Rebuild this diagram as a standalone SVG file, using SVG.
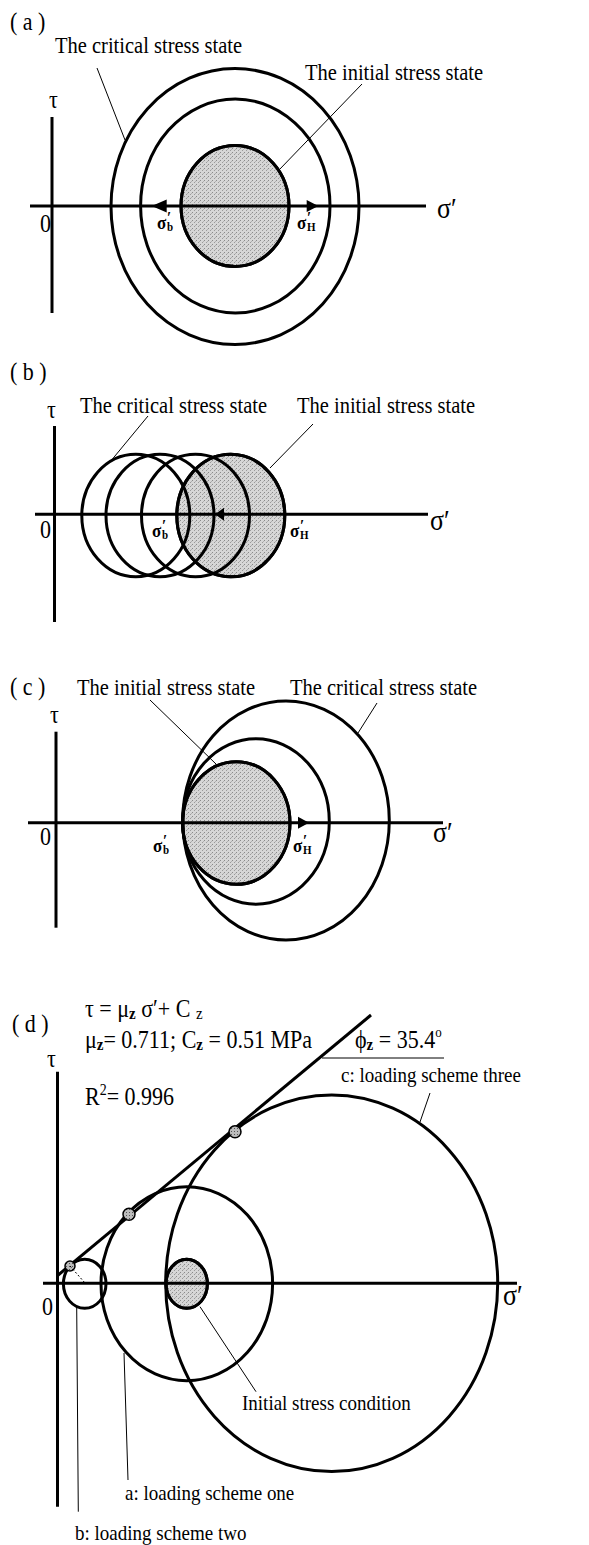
<svg xmlns="http://www.w3.org/2000/svg" width="589" height="1545" viewBox="0 0 589 1545">
<defs>
<pattern id="stip" width="4" height="4" patternUnits="userSpaceOnUse">
<rect width="4" height="4" fill="#d6d6d6"/>
<rect x="0" y="0" width="1" height="1" fill="#8a8a8a"/>
<rect x="2" y="2" width="1" height="1" fill="#9a9a9a"/>
<rect x="3" y="1" width="1" height="1" fill="#b0b0b0"/>
</pattern>
<pattern id="hatch" width="3" height="3" patternUnits="userSpaceOnUse">
<rect width="3" height="3" fill="#bbbbbb"/>
<rect x="0" y="0" width="1" height="1" fill="#555"/>
</pattern>
</defs>
<style>
.ax{stroke:#000;stroke-width:3;fill:none}
.c{stroke:#000;stroke-width:3;fill:none}
.sh{fill:url(#stip);stroke:#000;stroke-width:3}
.ld{stroke:#000;stroke-width:1;fill:none}
.ah{fill:#000;stroke:none}
.t{font-family:"Liberation Serif","Times New Roman",serif;fill:#000}
.pl{font-size:22px}
.lab{font-size:20.5px}
.lab2{font-size:19px}
.sig{font-size:26px}
.sm{font-size:17px;font-weight:bold}
.pr{font-size:15px;font-weight:bold}
.ss{font-size:11px;font-weight:bold}
.dot{fill:url(#hatch);stroke:#000;stroke-width:1.5}
</style>

<!-- Panel (a) -->
<g id="panel-a">
<text class="t pl" transform="translate(10 30) scale(1 1.13)">( a )</text>
<text class="t pl" transform="translate(49 108) scale(1 1.13)">τ</text>
<text class="t pl" transform="translate(40 232) scale(1 1.13)">0</text>
<text class="t sig" transform="translate(437 218) scale(1 1.13)">σ′</text>
<g id="a-initial"><ellipse class="sh" cx="235" cy="206" rx="54" ry="60.5"/></g>
<g id="a-axes">
<line class="ax" x1="52" y1="117" x2="52" y2="313"/>
<line class="ax" x1="30" y1="206" x2="426" y2="206"/>
</g>
<g id="a-middle"><ellipse class="c" cx="235.3" cy="206" rx="94.7" ry="107"/></g>
<g id="a-critical"><ellipse class="c" cx="235" cy="206.5" rx="124" ry="138"/></g>
<g id="a-initial-outline"><ellipse class="c" cx="235" cy="206" rx="54" ry="60.5"/></g>
<g id="a-arrows">
<polygon class="ah" points="151.7,206 166.7,199.5 166.7,212.5"/>
<polygon class="ah" points="318.3,206 306.7,200 306.7,212"/>
</g>
<text class="t sm" transform="translate(157 229) scale(1 1.13)">σ<tspan class="pr" x="10" y="-5">′</tspan><tspan class="ss" x="10" y="2">b</tspan></text>
<text class="t sm" transform="translate(297 229) scale(1 1.13)">σ<tspan class="pr" x="10" y="-5">′</tspan><tspan class="ss" x="10" y="2">H</tspan></text>
<text class="t lab" transform="translate(55 53) scale(1 1.13)">The critical stress state</text>
<text class="t lab" transform="translate(305 80) scale(1 1.13)">The initial stress state</text>
<g id="a-connectors">
<line class="ld" x1="97" y1="68" x2="125" y2="140"/>
<line class="ld" x1="362" y1="84" x2="279" y2="170"/>
</g>
</g>

<!-- Panel (b) -->
<g id="panel-b">
<text class="t pl" transform="translate(10 380) scale(1 1.13)">( b )</text>
<text class="t pl" transform="translate(47 418) scale(1 1.13)">τ</text>
<text class="t pl" transform="translate(40 538) scale(1 1.13)">0</text>
<text class="t sig" transform="translate(430 530) scale(1 1.13)">σ′</text>
<g id="b-initial"><ellipse class="sh" cx="230.8" cy="515.5" rx="54" ry="61.3"/></g>
<g id="b-axes">
<line class="ax" x1="54.5" y1="426" x2="54.5" y2="622"/>
<line class="ax" x1="35" y1="514.3" x2="428" y2="514.3"/>
</g>
<g id="b-circle1"><ellipse class="c" cx="135.8" cy="515.5" rx="54" ry="61.3"/></g>
<g id="b-circle2"><ellipse class="c" cx="160" cy="515.5" rx="54" ry="61.3"/></g>
<g id="b-circle3"><ellipse class="c" cx="195.5" cy="515.5" rx="54" ry="61.3"/></g>
<g id="b-circle4"><ellipse class="c" cx="230.8" cy="515.5" rx="54" ry="61.3"/></g>
<g id="b-arrows">
<polygon class="ah" points="215,514.3 224,507.8 224,520.8"/>
</g>
<text class="t sm" transform="translate(152 537) scale(1 1.13)">σ<tspan class="pr" x="10" y="-5">′</tspan><tspan class="ss" x="10" y="2">b</tspan></text>
<text class="t sm" transform="translate(290 537) scale(1 1.13)">σ<tspan class="pr" x="10" y="-5">′</tspan><tspan class="ss" x="10" y="2">H</tspan></text>
<text class="t lab" transform="translate(80 413) scale(1 1.13)">The critical stress state</text>
<text class="t lab" transform="translate(297 413) scale(1 1.13)">The initial stress state</text>
<g id="b-connectors">
<line class="ld" x1="148" y1="416" x2="110" y2="462"/>
<line class="ld" x1="313" y1="424" x2="270" y2="468"/>
</g>
</g>

<!-- Panel (c) -->
<g id="panel-c">
<text class="t pl" transform="translate(10 695) scale(1 1.13)">( c )</text>
<text class="t pl" transform="translate(50 723) scale(1 1.13)">τ</text>
<text class="t pl" transform="translate(40 845) scale(1 1.13)">0</text>
<text class="t sig" transform="translate(433 842) scale(1 1.13)">σ′</text>
<g id="c-initial"><ellipse class="sh" cx="236.3" cy="823" rx="53.7" ry="61.3"/></g>
<g id="c-axes">
<line class="ax" x1="56" y1="731.7" x2="56" y2="927.7"/>
<line class="ax" x1="28" y1="822.7" x2="443" y2="822.7"/>
</g>
<g id="c-middle"><ellipse class="c" cx="256" cy="821.5" rx="73.3" ry="82.8"/></g>
<g id="c-critical"><ellipse class="c" cx="286" cy="820.5" rx="103.3" ry="119.5"/></g>
<g id="c-initial-outline"><ellipse class="c" cx="236.3" cy="823" rx="53.7" ry="61.3"/></g>
<g id="c-arrows">
<polygon class="ah" points="309,822.7 298,816.7 298,828.7"/>
</g>
<text class="t sm" transform="translate(153 851.7) scale(1 1.13)">σ<tspan class="pr" x="10" y="-5">′</tspan><tspan class="ss" x="10" y="2">b</tspan></text>
<text class="t sm" transform="translate(293 851.7) scale(1 1.13)">σ<tspan class="pr" x="10" y="-5">′</tspan><tspan class="ss" x="10" y="2">H</tspan></text>
<text class="t lab" transform="translate(77 695) scale(1 1.13)">The initial stress state</text>
<text class="t lab" transform="translate(290 695) scale(1 1.13)">The critical stress state</text>
<g id="c-connectors">
<line class="ld" x1="150" y1="700" x2="216" y2="764"/>
<line class="ld" x1="377" y1="703" x2="358" y2="733"/>
</g>
</g>

<!-- Panel (d) -->
<g id="panel-d">
<text class="t pl" transform="translate(12 1031.7) scale(1 1.13)">( d )</text>
<text class="t pl" transform="translate(85 1016.7) scale(1 1.13)">τ = μ<tspan font-size="15" font-weight="bold" dy="2">z</tspan><tspan dy="-2"> σ′+ C </tspan><tspan font-size="15" dy="2">z</tspan></text>
<text class="t pl" transform="translate(85 1048) scale(1 1.13)">μ<tspan font-size="15" font-weight="bold" dy="2">z</tspan><tspan dy="-2">= 0.711; C</tspan><tspan font-size="15" font-weight="bold" dy="2">z</tspan><tspan dy="-2"> = 0.51 MPa</tspan></text>
<text class="t pl" transform="translate(355 1048) scale(1 1.13)">ϕ<tspan font-size="15" font-weight="bold" dy="2">z</tspan><tspan dy="-2"> = 35.4</tspan><tspan font-size="13" dy="-10">o</tspan></text>
<text class="t pl" transform="translate(85 1105) scale(1 1.13)">R<tspan font-size="14" dy="-9">2</tspan><tspan dy="9">= 0.996</tspan></text>
<text class="t pl" transform="translate(47 1066.7) scale(1 1.13)">τ</text>
<text class="t pl" transform="translate(42 1315) scale(1 1.13)">0</text>
<text class="t sig" transform="translate(503 1305) scale(1 1.13)">σ′</text>
<g id="d-initial"><ellipse class="sh" cx="186.7" cy="1283.8" rx="20.7" ry="24.5"/></g>
<g id="d-axes">
<line class="ax" x1="57.5" y1="1071.7" x2="57.5" y2="1506.7"/>
<line class="ax" x1="43" y1="1283.3" x2="517" y2="1283.3"/>
</g>
<g id="d-scheme-c"><ellipse class="c" cx="331.7" cy="1283.3" rx="166" ry="188.3"/></g>
<g id="d-scheme-a"><ellipse class="c" cx="186.8" cy="1283.7" rx="85.8" ry="97"/></g>
<g id="d-scheme-b"><ellipse class="c" cx="84.7" cy="1283.8" rx="21.3" ry="24.5"/></g>
<g id="d-initial-outline"><ellipse class="c" cx="186.7" cy="1283.8" rx="20.7" ry="24.5"/></g>
<g id="d-failure-line"><line class="ax" x1="57" y1="1276" x2="371" y2="1015"/></g>
<g id="d-tangent-points">
<circle class="dot" cx="235" cy="1131.7" r="6"/>
<circle class="dot" cx="129" cy="1214.3" r="6"/>
<circle class="dot" cx="70" cy="1266" r="5"/>
</g>
<text class="t lab2" transform="translate(341 1081.7) scale(1 1.13)">c: loading scheme three</text>
<text class="t lab2" transform="translate(242 1410) scale(1 1.13)">Initial stress condition</text>
<text class="t lab2" transform="translate(125 1500) scale(1 1.13)">a: loading scheme one</text>
<text class="t lab2" transform="translate(75 1540) scale(1 1.13)">b: loading scheme two</text>
<g id="d-connectors">
<line class="ld" x1="322" y1="1058" x2="444" y2="1058" stroke-width="1.5"/>
<line class="ld" x1="70" y1="1266" x2="85" y2="1283" stroke-dasharray="2,2"/>
<line class="ld" x1="430" y1="1093" x2="420" y2="1122"/>
<line class="ld" x1="200" y1="1306.7" x2="256" y2="1391.7"/>
<line class="ld" x1="124" y1="1353" x2="128" y2="1480"/>
<line class="ld" x1="76.7" y1="1306.7" x2="78.3" y2="1511.7"/>
</g>
</g>
</svg>
